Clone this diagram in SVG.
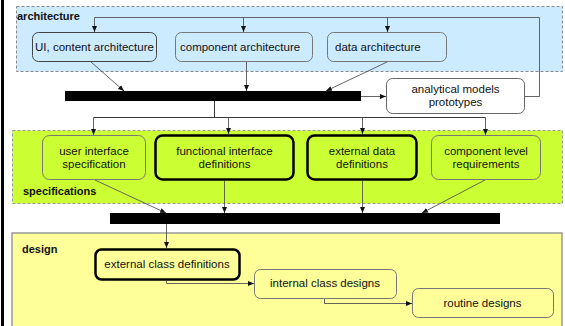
<svg xmlns="http://www.w3.org/2000/svg" width="565" height="326" viewBox="0 0 565 326">
<defs>
<marker id="ah" viewBox="0 0 6 6" refX="6" refY="3" markerWidth="6" markerHeight="6" markerUnits="userSpaceOnUse" orient="auto">
<path d="M0,0.5 L6,3 L0,5.5 Z" fill="#111"/>
</marker>
<style>
text{font-family:"Liberation Sans",Arial,sans-serif;font-size:11.5px;fill:#111}
.c{text-anchor:middle}
.lbl{font-weight:bold;font-size:11px}
.n{fill:none;stroke:#777;stroke-width:1}
.nd{fill:none;stroke:#444;stroke-width:1}
.nt{fill:none;stroke:#000;stroke-width:2.5}
.e{fill:none;stroke:#555;stroke-width:0.9;marker-end:url(#ah)}
.l{fill:none;stroke:#555;stroke-width:0.9}
</style>
</defs>
<rect x="1" y="0" width="3" height="326" fill="#000"/>
<g id="architecture">
<rect x="16.5" y="6.5" width="546" height="65" fill="#cdebff" stroke="#888" stroke-dasharray="3,2"/>
<text class="lbl" x="17" y="20">architecture</text>
</g>
<g id="specifications">
<rect x="12.5" y="130.5" width="550" height="73" fill="#ccff33" stroke="#999" stroke-dasharray="3,2"/>
<text class="lbl" x="23" y="195">specifications</text>
</g>
<g id="design">
<rect x="12" y="233" width="550" height="100" fill="#ffff99" stroke="#999" stroke-width="1.5"/>
<text class="lbl" x="22" y="253">design</text>
</g>
<g id="ui-content-architecture">
<rect class="nd" x="32.5" y="32.5" width="124" height="29" rx="6"/>
<text x="35" y="51">UI, content architecture</text>
</g>
<g id="component-architecture">
<rect class="n" x="175.5" y="32.5" width="137" height="29" rx="6"/>
<text x="180" y="51">component architecture</text>
</g>
<g id="data-architecture">
<rect class="n" x="327.5" y="32.5" width="119" height="29" rx="6"/>
<text x="335" y="51">data architecture</text>
</g>
<g id="bar1"><rect x="65" y="91" width="296" height="10" fill="#000"/></g>
<g id="analytical-models">
<rect x="386.5" y="78.5" width="138" height="35" rx="6" fill="#fff" stroke="#666"/>
<text class="c" x="455.5" y="93">analytical models</text>
<text class="c" x="455.5" y="106">prototypes</text>
</g>
<g id="user-interface-specification">
<rect class="n" x="42.5" y="135.5" width="103" height="44" rx="7"/>
<text class="c" x="94" y="155">user interface</text>
<text class="c" x="94" y="168">specification</text>
</g>
<g id="functional-interface-definitions">
<rect class="nt" x="155.5" y="135.5" width="138" height="44" rx="7"/>
<text class="c" x="224.5" y="155">functional interface</text>
<text class="c" x="224.5" y="168">definitions</text>
</g>
<g id="external-data-definitions">
<rect class="nt" x="307.5" y="135.5" width="109" height="44" rx="7"/>
<text class="c" x="362" y="155">external data</text>
<text class="c" x="362" y="168">definitions</text>
</g>
<g id="component-level-requirements">
<rect class="n" x="431.5" y="135.5" width="109" height="44" rx="7"/>
<text class="c" x="486" y="155">component level</text>
<text class="c" x="486" y="168">requirements</text>
</g>
<g id="bar2"><rect x="110" y="213" width="390" height="11" fill="#000"/></g>
<g id="external-class-definitions">
<rect class="nt" x="95.5" y="249.5" width="144" height="30" rx="6"/>
<text class="c" x="167" y="268">external class definitions</text>
</g>
<g id="internal-class-designs">
<rect class="n" x="254.5" y="269.5" width="142" height="29" rx="6"/>
<text class="c" x="325" y="287">internal class designs</text>
</g>
<g id="routine-designs">
<rect class="n" x="412.5" y="288.5" width="141" height="29" rx="6"/>
<text class="c" x="482.5" y="307">routine designs</text>
</g>
<g id="connectors">
<path class="l" d="M524.5,96.5 H539.5 V17.5 H94.5"/>
<path class="e" d="M94.5,17.5 V32"/>
<path class="e" d="M243.5,17.5 V32"/>
<path class="e" d="M387.5,17.5 V32"/>
<path class="e" d="M91,62 L124,91"/>
<path class="e" d="M246.5,62 V91"/>
<path class="e" d="M387,62 L326,91"/>
<path class="e" d="M361,96.5 H386"/>
<path class="l" d="M214.5,101 V117.5 M93.5,117.5 H485.5" style="stroke:#222"/>
<path class="e" d="M93.5,117.5 V135"/>
<path class="e" d="M228.5,117.5 V134"/>
<path class="e" d="M362.5,117.5 V134"/>
<path class="e" d="M485.5,117.5 V135"/>
<path class="e" d="M95,180 L166,213"/>
<path class="e" d="M224.5,181 V213"/>
<path class="e" d="M362.5,181 V213"/>
<path class="e" d="M485,180 L422,213"/>
<path class="e" d="M166.5,224 V248"/>
<path class="e" d="M166.5,281 V283.5 H254"/>
<path class="e" d="M324.5,299 V303.5 H412"/>
</g>
</svg>
